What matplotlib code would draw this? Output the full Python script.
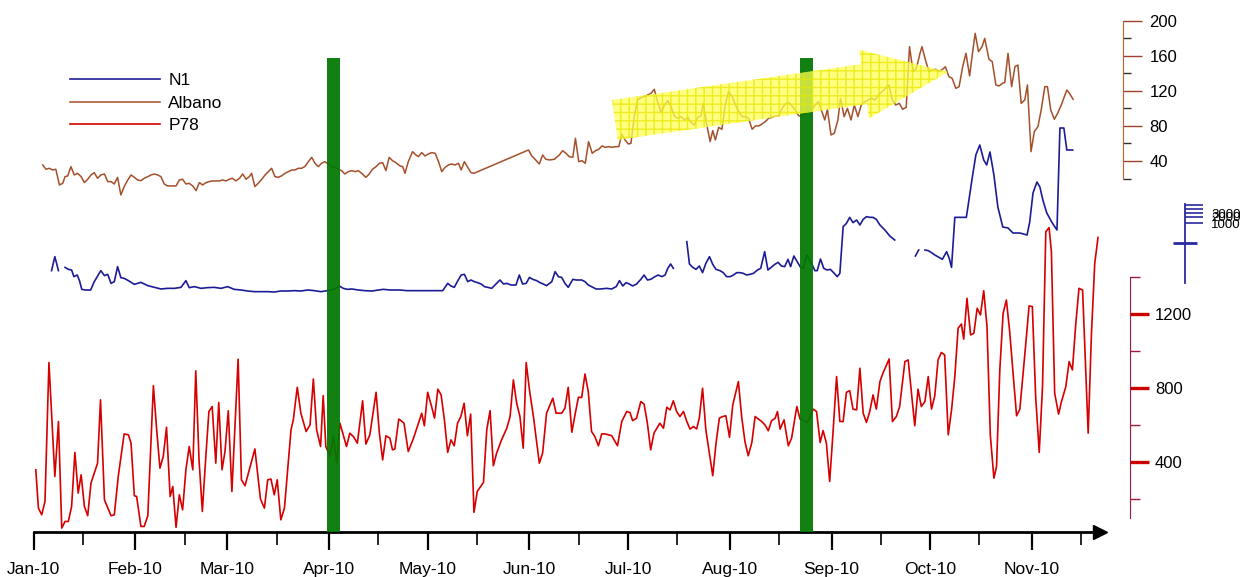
import matplotlib
matplotlib.use('Agg')
import matplotlib.pyplot as plt
import matplotlib.dates as mdates
from matplotlib.patches import FancyArrowPatch
from matplotlib.ticker import FixedLocator, NullFormatter
import numpy as np
from datetime import datetime

plt.rcParams['font.family'] = ['Liberation Sans', 'DejaVu Sans']

# Day offsets are counted from 1 Jan 2010
p78_days = [0.7, 1.5, 2.5, 3.5, 4.7, 6.5, 7.6, 8.6, 9.6, 10.6, 11.6, 12.6, 13.6, 14.5, 15.5, 16.5, 17.5, 19.5, 20.4, 21.6,
            23.6, 24.6, 25.8, 27.6, 28.9, 29.7, 30.7, 31.4, 32.7, 33.7, 34.8, 36.5, 37.5, 38.5, 39.5, 40.5, 41.6, 42.4, 43.4, 44.4,
            45.4, 46.4, 47.4, 48.5, 49.4, 50.4, 51.4, 52.4, 53.4, 54.4, 55.5, 56.4, 57.4, 58.3, 59.3, 60.4, 62.3, 63.3, 64.4, 67.4,
            69.1, 70.3, 71.3, 72.3, 73.3, 74.2, 75.3, 76.4, 78.4, 79.1, 80.3, 81.4, 83.0, 84.2, 85.2, 86.2, 87.4, 88.2, 89.0, 90.3,
            91.3, 92.3, 93.3, 94.3, 95.3, 96.3, 97.4, 98.6, 100.2, 101.2, 102.4, 104.3, 105.3, 106.3, 107.3, 108.5, 109.3, 110.0, 111.2,
            111.6, 112.8, 114.1, 115.7, 117.2, 118.2, 119.0, 120.0, 121.2, 122.1, 123.1, 124.1, 125.1, 126.1, 127.1, 128.1, 129.1, 130.1,
            131.1, 132.1, 133.1, 134.1, 135.1, 137.0, 138.0, 139.0, 140.0, 141.0, 142.5, 144.1, 145.1, 146.1, 147.1, 148.1, 149.1, 150.0,
            151.0, 152.2, 154.0, 155.0, 156.2, 158.1, 159.1, 160.8, 161.8, 162.8, 163.9, 164.9, 165.9, 166.9, 167.9, 168.9, 169.9, 170.9,
            172.0, 173.0, 174.0, 176.0, 177.8, 179.1, 180.6, 181.6, 182.4, 183.6, 184.9, 185.9, 186.9, 187.9, 188.9, 190.7, 191.8, 192.8,
            193.8, 194.8, 195.8, 196.8, 197.9, 198.9, 199.9, 200.9, 201.9, 202.7, 203.7, 204.7, 205.8, 206.8, 207.8, 208.8, 209.8, 210.8,
            211.9, 212.9, 214.6, 215.6, 216.6, 217.6, 218.7, 219.7, 221.7, 222.7, 223.7, 224.7, 225.8, 226.5, 227.3, 228.5, 229.8, 230.8,
            232.4, 233.4, 234.4, 235.6, 237.4, 238.4, 239.5, 240.4, 241.4, 242.4, 243.4, 244.5, 245.5, 246.5, 247.5, 248.5, 249.5, 250.6,
            251.6, 252.6, 253.6, 254.6, 255.6, 256.6, 257.7, 258.7, 259.7, 260.5, 261.5, 262.7, 263.7, 265.3, 266.3, 267.3, 268.3, 269.3,
            270.3, 271.4, 272.4, 273.4, 274.4, 275.4, 276.4, 277.4, 278.5, 279.5, 280.5, 281.5, 282.5, 283.2, 284.2, 285.3, 286.3, 287.3,
            288.3, 289.3, 290.3, 291.3, 292.4, 293.2, 294.2, 295.2, 296.2, 297.2, 299.3, 300.3, 301.3, 302.3, 303.1, 304.1, 305.1, 306.2,
            307.2, 308.2, 309.2, 309.9, 310.9, 312.1, 312.9, 314.3, 315.3, 316.3, 317.3, 318.3, 319.4, 321.1, 322.1, 323.1, 324.1]
p78_vals = [358, 151, 115, 187, 938, 322, 619, 43, 79, 79, 160, 452, 232, 331, 160, 110, 286, 394, 736, 196,
            110, 115, 322, 552, 547, 502, 218, 214, 52, 52, 110, 813, 574, 367, 430, 588, 214, 268, 47, 223,
            142, 358, 484, 358, 893, 412, 133, 412, 673, 700, 394, 722, 358, 457, 677, 241, 956, 304, 272, 471,
            200, 151, 304, 308, 223, 304, 88, 151, 574, 628, 804, 664, 565, 601, 849, 574, 484, 759, 484, 430,
            538, 394, 610, 547, 484, 556, 538, 502, 731, 497, 547, 777, 556, 412, 542, 529, 466, 470, 632,
            628, 610, 457, 529, 610, 664, 596, 777, 700, 637, 794, 763, 628, 452, 520, 488, 610, 646,
            718, 542, 659, 128, 241, 290, 574, 678, 380, 448, 520, 583, 646, 844, 718, 646, 475, 938,
            790, 646, 394, 448, 664, 745, 664, 664, 691, 804, 561, 659, 750, 749, 876, 781, 565, 538,
            488, 552, 552, 543, 488, 619, 673, 668, 624, 637, 727, 713, 610, 466, 556, 610, 583, 696,
            682, 731, 673, 646, 673, 619, 578, 592, 579, 637, 799, 574, 443, 326, 502, 637, 646, 650,
            534, 709, 835, 646, 511, 434, 506, 646, 619, 601, 569, 623, 637, 673, 578, 628, 488, 529,
            700, 632, 624, 614, 686, 673, 506, 570, 502, 295, 556, 862, 619, 619, 777, 786, 686, 682,
            907, 664, 614, 673, 763, 686, 835, 884, 925, 957, 619, 646, 700, 943, 952, 772, 596, 794,
            700, 727, 862, 686, 758, 952, 992, 979, 547, 682, 862, 1123, 1146, 1064, 1285, 1087, 1096, 1231,
            1195, 1326, 1132, 547, 313, 376, 898, 1204, 1276, 1105, 650, 686, 880, 1078, 1244, 1240, 758, 452,
            808, 1645, 1667, 1537, 772, 659, 722, 808, 943, 898, 1141, 1339, 1330, 556, 1096, 1474, 1614]

albano_days = [2.8, 3.8, 4.8, 5.8, 6.8, 7.9, 8.9, 9.6, 10.4, 11.4, 12.4, 13.4, 14.5, 15.5, 16.5, 17.5, 18.5, 19.5, 20.5, 21.6,
               22.6, 23.6, 24.6, 25.6, 26.6, 27.6, 28.7, 29.7, 30.7, 31.7, 32.7, 33.7, 34.8, 35.8, 36.8, 37.8, 38.8, 39.8, 40.8, 42.4,
               43.4, 44.4, 45.4, 46.4, 47.4, 48.5, 49.5, 50.5, 51.5, 52.5, 53.5, 54.5, 56.6, 57.6, 58.6, 59.6, 60.6, 61.6, 62.7, 63.7,
               64.7, 65.7, 66.4, 67.4, 68.4, 69.5, 70.5, 71.5, 72.5, 73.5, 74.5, 75.5, 76.6, 77.6, 78.6, 79.6, 80.6, 81.6, 82.6, 83.7,
               84.7, 85.7, 86.7, 87.7, 88.7, 89.7, 90.8, 91.8, 92.8, 93.8, 94.8, 95.8, 96.9, 97.9, 98.9, 99.9, 101.2, 102.2, 103.2, 104.3,
               105.3, 106.3, 107.3, 108.3, 109.3, 110.3,
               111.6, 112.4, 113.1, 114.1, 115.4, 116.4, 117.2, 118.2, 119.2, 120.2, 121.2, 122.3, 123.3, 124.3, 125.3, 126.3, 127.3, 128.3,
               129.4, 130.2, 131.2, 132.2, 133.2, 134.1, 150.7, 151.7, 152.7, 154.0, 155.0, 156.0, 157.1, 158.6, 160.1, 161.1, 162.1, 163.1,
               164.2, 165.0, 166.0, 167.0, 168.0, 169.0, 170.1, 171.1, 172.1, 173.1, 174.1, 175.1, 176.1, 177.2, 178.2, 179.1, 180.1, 181.1,
               181.9, 182.9, 183.9, 185.0, 186.0, 187.0, 188.0, 189.0, 190.0, 191.1, 192.1, 193.1, 194.1, 195.1, 196.1, 197.1, 198.2, 199.2,
               200.2, 201.2, 202.2, 203.2, 203.9, 205.0, 206.0, 206.8, 207.6, 208.6, 209.6, 210.6, 211.6, 212.7, 213.7, 214.7, 215.7, 216.7,
               217.7, 218.8, 219.8, 220.8, 221.8, 222.8, 223.8, 224.8, 225.9, 226.9, 227.9, 228.9, 229.9, 230.9, 231.9, 233.0, 234.0, 235.0,
               236.0, 237.0, 238.0, 239.0,
               240.9, 241.7, 242.8, 243.8, 244.9, 245.7, 246.8, 247.8, 248.9, 249.9, 251.0, 252.0, 253.1, 254.1, 255.2, 256.2, 257.3, 258.3,
               259.4, 260.4, 261.5, 262.5, 263.6, 264.6, 265.7, 266.7, 267.8, 268.8, 269.9, 270.5, 271.5, 272.6, 273.6, 274.7, 275.7, 276.8,
               277.6, 278.7, 279.7, 280.8, 281.8, 282.9, 283.9, 285.0, 286.0, 286.7, 287.7, 288.8, 289.6, 290.9, 291.9, 293.0, 294.0, 295.0,
               295.7, 296.7, 297.8, 298.8, 299.7, 300.7, 301.8, 302.6, 303.7, 304.7, 305.8, 306.8, 307.9, 308.7, 309.7, 310.8, 311.8, 312.9,
               314.6, 315.4, 316.5]
albano_vals = [35.5, 30.6, 31.7, 29.8, 30.6, 12.7, 14.6, 22.2, 23.0, 33.6, 24.1, 26.0, 22.2, 15.4, 19.2, 24.1, 26.8, 20.3, 24.1, 25.2,
               16.5, 16.5, 13.8, 21.4, 1.3, 10.8, 18.4, 24.1, 21.4, 18.4, 17.6, 20.3, 22.2, 24.1, 25.2, 24.1, 22.2, 13.8, 11.6, 11.6,
               11.6, 18.4, 19.2, 13.8, 14.6, 11.6, 6.2, 15.4, 12.7, 15.4, 16.5, 17.3, 17.3, 18.4, 17.3, 19.2, 20.3, 17.3, 20.3, 25.2,
               19.2, 22.2, 26.0, 10.8, 14.6, 19.2, 24.1, 27.9, 31.7, 22.2, 21.4, 23.0, 26.0, 27.9, 29.8, 29.8, 31.7, 31.7, 33.6, 39.3,
               44.2, 37.4, 33.6, 37.4, 39.3, 36.6, 33.6, 32.8, 30.6, 29.0, 25.2, 27.9, 29.0, 27.9, 29.0, 26.0, 21.4, 25.2, 30.6, 33.6,
               37.4, 38.2, 29.0, 44.2, 40.4, 38.2,
               34.4, 33.6, 26.0, 39.3, 50.7, 46.9, 45.0, 49.6, 45.8, 48.0, 49.6, 48.8, 39.3, 27.9, 32.8, 35.5, 36.6, 35.5,
               37.4, 29.8, 39.3, 32.8, 26.8, 26.0, 52.6, 45.8, 42.0, 36.6, 46.9, 42.0, 41.2, 42.0, 46.9, 51.8, 48.8, 45.0,
               44.2, 65.9, 39.3, 40.4, 37.4, 62.1, 48.8, 51.8, 53.4, 57.2, 55.6, 56.4, 55.6, 56.4, 56.4, 70.8, 64.0, 59.4,
               60.2, 90.6, 109.6, 112.3, 113.4, 115.3, 117.2, 121.8, 107.7, 95.2, 103.9, 108.8, 102.0, 91.4, 88.7, 90.6, 86.8, 89.8,
               83.8, 81.1, 89.8, 91.4, 105.8, 81.1, 62.1, 74.6, 64.0, 78.4, 76.2, 103.9, 119.1, 113.4, 103.9, 96.3, 90.6, 90.6,
               88.7, 76.2, 80.0, 80.0, 82.2, 84.9, 88.7, 89.8, 91.4, 91.4, 100.1, 105.0, 106.6, 102.8, 98.2, 91.4, 91.4, 94.4,
               97.4, 98.9, 103.9, 107.7,
               86.8, 99.0, 69.7, 71.6, 86.8, 111.5, 90.6, 100.1, 86.8, 103.9, 90.6, 103.9, 107.7, 109.6, 111.5, 109.6, 115.3, 119.1,
               122.9, 126.7, 109.6, 103.9, 105.8, 99.0, 101.2, 170.4, 141.9, 145.7, 162.8, 170.4, 156.0, 141.9, 143.8, 144.6, 141.9, 144.6,
               147.6, 136.2, 134.3, 122.9, 124.8, 147.6, 162.8, 137.0, 166.6, 185.6, 164.7, 170.4, 179.9, 156.0, 153.3, 126.7, 125.6, 128.6,
               129.4, 162.8, 124.8, 147.6, 149.5, 105.8, 109.6, 126.7, 50.7, 73.5, 79.2, 98.2, 124.8, 124.8, 98.2, 87.6, 94.4, 103.9,
               121.0, 117.2, 110.4]

nan = np.nan
n1_days = [5.5, 6.5, 7.6, 8.5,
           9.6, 10.6, 11.6, 12.3, 13.3, 14.0, 14.7, 15.7, 17.4, 18.5, 20.5, 21.6, 22.6, 23.6, 24.6, 25.6, 26.6, 27.6, 28.9, 30.7,
           32.7, 34.8, 36.8, 38.8, 40.8, 42.9, 44.9, 46.4, 47.4, 49.0, 51.0, 53.0, 55.0, 57.1, 59.1, 61.1, 63.2, 65.2, 67.2, 69.3,
           71.3, 73.3, 75.3, 77.4, 79.4, 81.4, 83.5, 85.5, 87.5, 89.5, 91.6, 93.1, 94.3, 95.6, 96.9, 98.9, 100.9, 103.0, 105.0, 106.5,
           108.5, 110.5, 111.6, 113.6, 115.7, 117.7, 119.7, 121.7, 124.6, 126.1, 127.1, 128.1, 129.2, 130.2, 131.2, 132.2, 133.2, 134.2,
           135.2, 136.3, 137.3, 138.3, 139.5, 140.5, 142.0, 143.1, 144.1, 145.4, 146.9, 147.9, 148.9, 150.0, 151.0, 152.0, 153.2, 154.2,
           155.2, 156.2, 157.8, 158.8, 159.8, 160.8, 161.8, 162.8, 164.2, 165.2, 166.9, 167.9, 168.9, 169.9, 171.3, 172.5, 174.5, 176.0,
           177.4, 178.4, 179.4, 180.4, 181.4, 182.4, 183.6, 184.9, 185.9, 186.9, 187.9, 189.2, 190.2, 191.3, 192.3, 193.1, 194.0, 194.8,
           196.5,
           198.9, 199.7, 200.7, 201.7, 202.7, 203.7, 204.7, 205.8, 206.8, 207.8, 209.0, 210.0, 211.0, 212.1, 213.1, 214.1, 215.1, 216.1,
           217.1, 218.1, 219.2, 220.4, 221.4, 222.6, 223.6, 224.6, 225.7, 226.7, 227.7, 228.7, 229.7, 230.5, 231.5, 232.5, 233.4, 234.4,
           235.4, 236.4, 237.9, 238.6, 239.6, 240.6, 241.6, 242.6, 243.6, 244.7, 245.5, 246.5, 247.5, 248.5, 249.5, 250.6, 251.6, 252.6,
           253.6, 254.6, 255.6, 256.6, 257.7, 259.2, 260.7, 262.2,
           265.0,
           268.5, 269.5,
           270.5,
           271.4, 272.4, 273.4, 274.4, 275.7, 276.7, 278.0, 278.8, 279.5, 280.5, 281.8, 282.8, 284.0, 284.5, 285.7, 286.9, 288.1, 289.3,
           290.2, 291.2, 292.4, 293.6, 295.1, 296.7, 298.2, 300.3, 302.5, 303.3, 304.3, 305.5, 306.4, 307.3, 308.5, 310.0, 311.6, 312.5,
           313.7, 314.6, 316.4]
n1_vals = [587, 867, 587, nan,
           653, 613, 600, 467, 500, 387, 213, 200, 200, 367, 587, 487, 513, 333, 367, 667, 447, 433, 387, 313,
           353, 287, 253, 220, 233, 233, 253, 387, 247, 267, 233, 247, 253, 233, 267, 213, 200, 180, 167, 167,
           167, 160, 180, 180, 187, 180, 200, 187, 167, 187, 213, 280, 233, 213, 220, 200, 187, 180, 200, 213,
           200, 200, 200, 187, 187, 187, 187, 187, 187, 333, 280, 253, 387, 500, 513, 367, 400, 367,
           347, 320, 267, 253, 233, 300, 400, 320, 333, 300, 300, 500, 320, 333, 453, 413, 387, 347,
           320, 287, 367, 567, 467, 453, 333, 253, 413, 400, 400, 367, 300, 267, 220, 220, 233, 220,
           267, 387, 280, 347, 320, 280, 320, 413, 500, 400, 413, 467, 500, 467, 500, 633, 720, 633,
           nan,
           1167, 720, 653, 613, 680, 547, 733, 867, 713, 613, 587, 547, 467, 467, 500, 547, 547, 533,
           500, 513, 533, 600, 633, 967, 600, 653, 713, 753, 680, 667, 813, 667, 880, 767, 667, 633,
           900, 800, 587, 587, 820, 633, 600, 613, 547, 467, 533, 1467, 1533, 1653, 1547, 1600, 1500, 1613,
           1667, 1653, 1653, 1613, 1500, 1400, 1280, 1200,
           nan,
           880, 1000,
           nan,
           1000, 987, 947, 900, 853, 813, 967, 833, 653, 1653, 1653, 1653, 1653, 1867, 2400, 2900, 3100, 2800,
           2700, 2960, 2500, 1860, 1460, 1440, 1340, 1340, 1300, 1560, 2140, 2360, 2260, 2000, 1740, 1560, 1400, 3440,
           3440, 3000, 3000]

# periods marked with green bars (day offsets)
event_spans = [(89.3, 93.3), (233.3, 237.3)]
# trend arrow: (day, Albano value) start and tip
trend_start = (177.0, 86.8)
trend_tip = (278.4, 141.5)

day0 = mdates.date2num(datetime(2010, 1, 1))

def to_x(days):
    return day0 + np.asarray(days, dtype=float)

fig = plt.figure(figsize=(12.53, 5.77), dpi=100)
ax = fig.add_axes([33.5 / 1253, 45 / 577, 1066.5 / 1253, 522 / 577])
ax.set_xlim(day0, day0 + 324.7)
ax.set_yticks([])
for s in ['left', 'top', 'right']:
    ax.spines[s].set_visible(False)
ax.spines['bottom'].set_linewidth(2)
ax.xaxis.set_major_locator(mdates.MonthLocator())
ax.xaxis.set_minor_locator(mdates.MonthLocator(bymonthday=16))
ax.xaxis.set_major_formatter(mdates.DateFormatter('%b-%y'))
ax.tick_params(axis='x', which='major', length=13, width=1.6, pad=8.5, labelsize=12.5)
ax.tick_params(axis='x', which='minor', length=9, width=1.2)
ax.plot(1, 0, marker='>', ms=10, color='k', transform=ax.transAxes, clip_on=False)

# P78
ax_p = ax.twinx()
ax_p.set_ylim(22, 2843)
ax_p.plot(to_x(p78_days), p78_vals, color='#d60000', lw=1.2, label='P78')
for s in ['left', 'top', 'bottom']:
    ax_p.spines[s].set_visible(False)
ax_p.spines['right'].set_position(('outward', 21.6))
ax_p.spines['right'].set_bounds(100, 1400)
ax_p.spines['right'].set_color('#9b1b3a')
ax_p.yaxis.set_major_locator(FixedLocator([400, 800, 1200]))
ax_p.yaxis.set_minor_locator(FixedLocator([200, 600, 1000, 1400]))
ax_p.tick_params(axis='y', which='major', length=14, width=2.4, color='#cc0000', labelsize=12, pad=4)
ax_p.tick_params(axis='y', which='minor', length=7, width=1, color='#9b1b3a')

# N1 (data axis hidden)
ax_n = ax.twinx()
ax_n.set_ylim(-4640, 5800)
ax_n.plot(to_x(n1_days), n1_vals, color='#1c1c96', lw=1.2, label='N1')
ax_n.axis('off')

# N1 scale
ax_ns = ax.twinx()
ax_ns.set_yscale('log')
ax_ns.set_ylim(3.55e-13, 4.47e13)
for s in ['left', 'top', 'bottom']:
    ax_ns.spines[s].set_visible(False)
ax_ns.spines['right'].set_position(('outward', 61))
ax_ns.spines['right'].set_bounds(1, 9000)
ax_ns.spines['right'].set_color('#2a2aa0')
ax_ns.spines['right'].set_linewidth(1.3)
ax_ns.yaxis.set_major_locator(FixedLocator([1000, 2000, 3000, 5000, 8000]))
ax_ns.yaxis.set_major_formatter(plt.FuncFormatter(lambda v, p: '%d' % v if v <= 3000 else ''))
ax_ns.yaxis.set_minor_locator(FixedLocator([100]))
ax_ns.yaxis.set_minor_formatter(NullFormatter())
ax_ns.tick_params(axis='y', which='major', length=13, width=1.2, color='#2a2aa0', labelsize=9.5, pad=6)
ax_ns.tick_params(axis='y', which='minor', direction='inout', length=17, width=2, color='#2a2aa0')

# Albano
ax_a = ax.twinx()
ax_a.set_ylim(-383, 212.2)
ax_a.plot(to_x(albano_days), albano_vals, color='#a4502a', lw=1.1, label='Albano')
for s in ['left', 'top', 'bottom']:
    ax_a.spines[s].set_visible(False)
ax_a.spines['right'].set_position(('outward', 16.6))
ax_a.spines['right'].set_bounds(20, 200)
ax_a.spines['right'].set_color('#c0602a')
ax_a.yaxis.set_major_locator(FixedLocator([40, 80, 120, 160, 200]))
ax_a.yaxis.set_minor_locator(FixedLocator([20, 60, 100, 140, 180]))
ax_a.tick_params(axis='y', which='major', length=14, width=1, color='#a0402a', labelsize=12, pad=5)
ax_a.tick_params(axis='y', which='minor', length=6, width=1, color='#303030')

# green event bars, drawn over the lines
for a, b in event_spans:
    ax_a.axvspan(day0 + a, day0 + b, ymin=0, ymax=0.908, color='#007800', alpha=0.93, lw=0, zorder=5)

# yellow trend arrow
arr = FancyArrowPatch((day0 + trend_start[0], trend_start[1]), (day0 + trend_tip[0], trend_tip[1]),
                      arrowstyle='simple,head_length=61,head_width=50,tail_width=29',
                      mutation_scale=1, shrinkA=0, shrinkB=0,
                      facecolor='#ffff55', edgecolor='#e6e600', lw=0, hatch='++', alpha=0.75, zorder=6)
ax_a.add_patch(arr)

handles = [ax_n.lines[0], ax_a.lines[0], ax_p.lines[0]]
ax_a.legend(handles, ['N1', 'Albano', 'P78'], loc='upper left', bbox_to_anchor=(70 / 1253, 1 - 73 / 577),
            bbox_transform=fig.transFigure, frameon=False, borderpad=0, borderaxespad=0,
            handlelength=5.2, handletextpad=0.46, labelspacing=0.42, fontsize=12.5)

fig.savefig('out.png', dpi=100)
